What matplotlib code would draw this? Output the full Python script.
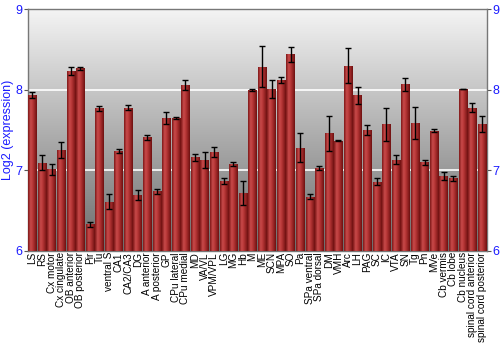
import numpy as np
import matplotlib
matplotlib.use("Agg")
import matplotlib.pyplot as plt
from matplotlib.colors import LinearSegmentedColormap

plt.rcParams['font.family'] = ['Liberation Sans', 'DejaVu Sans']

regions = ["LS", "RS", "Cx motor", "Cx cingulate", "OB anterior", "OB posterior", "Pir", "Tu",
           "ventral S", "CA1", "CA2/CA3", "DG", "A anterior", "A posterior", "GP", "CPu lateral",
           "CPu medial", "MD", "VA/VL", "VPM/VPL", "LG", "MG", "Hb", "M", "ME", "SCN", "MPA", "SO",
           "Pa", "SPa ventral", "SPa dorsal", "DM", "VMH", "Arc", "LH", "PAG", "SC", "IC", "VTA",
           "SN", "Tg", "Pn", "MVe", "Cb vermis", "Cb lobe", "Cb nucleus", "spinal cord anterior",
           "spinal cord posterior"]
values = [7.94, 7.095, 7.01, 7.25, 8.24, 8.27, 6.33, 7.77,
          6.61, 7.24, 7.78, 6.69, 7.41, 6.74, 7.65, 7.65,
          8.06, 7.16, 7.13, 7.23, 6.87, 7.08, 6.72, 7.995, 8.29, 8.01, 8.12, 8.44,
          7.28, 6.67, 7.03, 7.46, 7.37, 8.30, 7.93, 7.50, 6.86, 7.57, 7.13,
          8.07, 7.59, 7.10, 7.49, 6.93, 6.90, 8.01, 7.78, 7.58]
errors = [0.035, 0.09, 0.07, 0.10, 0.05, 0.02, 0.03, 0.03,
          0.09, 0.025, 0.03, 0.065, 0.03, 0.03, 0.08, 0.008,
          0.06, 0.045, 0.10, 0.06, 0.035, 0.022, 0.15, 0.01, 0.25, 0.11, 0.04, 0.09,
          0.18, 0.03, 0.025, 0.22, 0.005, 0.22, 0.105, 0.06, 0.04, 0.20, 0.055,
          0.08, 0.20, 0.033, 0.02, 0.05, 0.033, 0.005, 0.055, 0.10]
yticks = [6, 7, 8, 9]
ylabel = "Log2 (expression)"
baseline = 6

fig = plt.figure(figsize=(5, 3.5), dpi=100)
ax = fig.add_axes([0.0554, 0.2837, 0.918, 0.6893])

x = np.arange(len(regions))
ax.set_xlim(-0.5, len(regions) - 0.5)
ax.set_ylim(6, 9)

# background gradient
bg = LinearSegmentedColormap.from_list("bg", ["#6c6c6c", "#f4f4f4"])
grad = np.linspace(0, 1, 256).reshape(-1, 1)
ax.imshow(grad, cmap=bg, aspect='auto', origin='lower',
          extent=[-0.5, len(regions) - 0.5, 6, 9], zorder=0)

for yv in [7, 8]:
    ax.axhline(yv, color='white', lw=1.2, zorder=1)

heights = [v - baseline for v in values]
bars = ax.bar(x, heights, bottom=baseline, width=0.88, color='#b03030', zorder=2, linewidth=0)

barcmap = LinearSegmentedColormap.from_list(
    "bar", [(0, "#7e1818"), (0.3, "#c84a4a"), (0.55, "#b53535"), (1, "#6e1010")])
hgrad = np.linspace(0, 1, 64).reshape(1, -1)
for b in bars:
    x0, y0, w, h = b.get_x(), b.get_y(), b.get_width(), b.get_height()
    im = ax.imshow(hgrad, cmap=barcmap, aspect='auto', extent=[x0, x0 + w, y0, y0 + h], zorder=3)
    im.set_clip_path(b)

ax.errorbar(x, values, yerr=errors, fmt='none', ecolor='black', elinewidth=1,
            capsize=2, capthick=1, zorder=4)

ax.set_xlim(-0.5, len(regions) - 0.5)
ax.set_ylim(6, 9)
ax.set_xticks(x)
ax.set_xticklabels(regions, rotation=90, fontsize=7.2)
ax.tick_params(axis='x', length=0, pad=1)
ax.set_yticks(yticks)
ax.tick_params(axis='y', which='both', left=True, right=True, labelleft=True, labelright=True,
               labelcolor='#1a1aff', labelsize=9, color='#555555', length=3, direction='out', pad=1)
ax.set_ylabel(ylabel, color='#1a1aff', fontsize=9, labelpad=1)

for s in ax.spines.values():
    s.set_color('#777777')
    s.set_linewidth(1)

fig.savefig("out.png", dpi=100)
